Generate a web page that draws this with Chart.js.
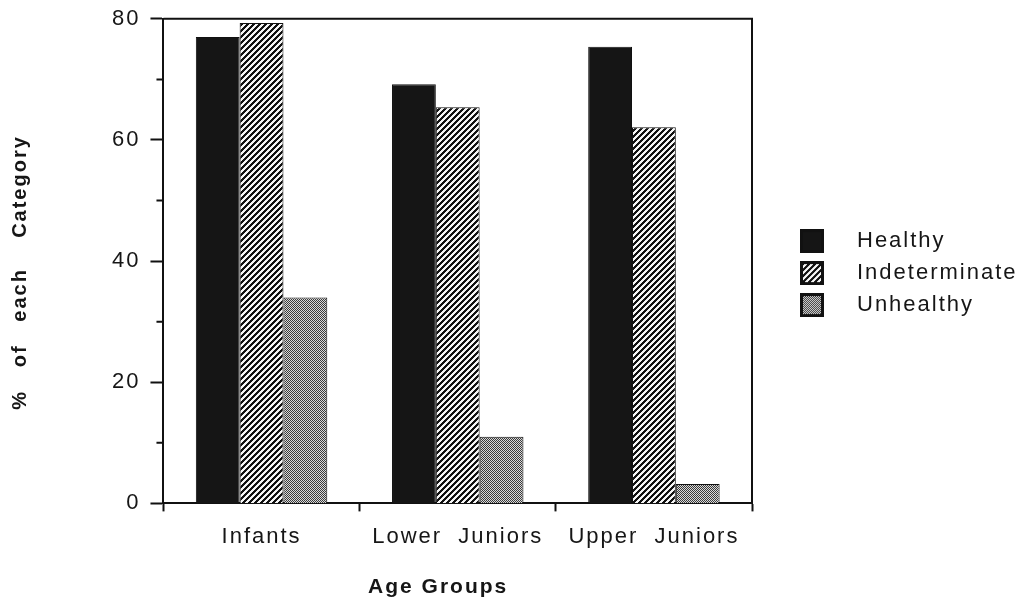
<!DOCTYPE html>
<html>
<head>
<meta charset="utf-8">
<script src="https://cdn.jsdelivr.net/npm/chart.js@4"></script>
<style>
  html, body { margin: 0; padding: 0; background: #fff; }
  #wrap { width: 1022px; height: 602px; }
</style>
</head>
<body>
<div id="wrap"><canvas id="chart1"></canvas></div>
<script>
// data
const categories = ['Infants', 'Lower  Juniors', 'Upper  Juniors'];
const seriesNames = ['Healthy', 'Indeterminate', 'Unhealthy'];
const healthy = [77, 69.2, 75.4];
const indeterminate = [79.3, 65.4, 62.1];
const unhealthy = [34, 11, 3.2];
const yTicks = [0, 20, 40, 60, 80];
const yMinor = [10, 30, 50, 70];

const FONT = "'Liberation Sans', Arial, Helvetica, sans-serif";
const INK = '#161616';
const LEGEND_W = 270;

// fill patterns
const makeTile = (w, h, fn) => {
    const c = document.createElement('canvas');
    c.width = w; c.height = h;
    const g = c.getContext('2d');
    for (let y = 0; y < h; y++) {
        for (let x = 0; x < w; x++) {
            g.fillStyle = fn(x, y);
            g.fillRect(x, y, 1, 1);
        }
    }
    return c;
};
const hatchTile = makeTile(6, 6, (x, y) => ((x + y) % 6) < 3 ? '#111' : '#f4f4f4');
const dotTile = makeTile(2, 2, (x, y) => ((x + y) % 2) ? '#dadada' : '#3a3a3a');
const patCtx = document.createElement('canvas').getContext('2d');
const fills = [
    '#151515',
    patCtx.createPattern(hatchTile, 'repeat'),
    patCtx.createPattern(dotTile, 'repeat')
];

// legend swatch images (wide, swatch drawn on the right side)
const SW_W = 84, SW_OFF = 38, SW = 24;
const swatches = fills.map(f => {
    const c = document.createElement('canvas');
    c.width = SW_W; c.height = SW;
    const g = c.getContext('2d');
    g.fillStyle = f;
    g.fillRect(SW_OFF, 0, SW, SW);
    g.lineWidth = 3;
    g.strokeStyle = '#111';
    g.strokeRect(SW_OFF + 1.5, 1.5, SW - 3, SW - 3);
    return c;
});

// wide letter spacing like the old print, fixed legend width
const spacingPlugin = {
    id: 'spacing',
    beforeLayout(chart) {
        chart.ctx.letterSpacing = '2px';
        const lg = chart.legend;
        if (lg && !lg._fixedW) {
            const fit = lg.fit.bind(lg);
            lg.fit = () => { fit(); lg.width = LEGEND_W; };
            lg._fixedW = true;
        }
    },
    beforeDraw(chart) { chart.ctx.letterSpacing = '2px'; }
};

// frame + minor ticks
const framePlugin = {
    id: 'frame',
    afterDraw(chart) {
        const { ctx, chartArea: a, scales } = chart;
        ctx.save();
        ctx.strokeStyle = '#111';
        ctx.lineWidth = 2;
        ctx.beginPath();
        ctx.moveTo(a.left, a.top);
        ctx.lineTo(a.right, a.top);
        ctx.lineTo(a.right, a.bottom);
        ctx.stroke();
        ctx.beginPath();
        yMinor.forEach(v => {
            const y = scales.y.getPixelForValue(v);
            ctx.moveTo(a.left - 7, y);
            ctx.lineTo(a.left, y);
        });
        ctx.stroke();
        ctx.restore();
    }
};

const createChart = (ctx) => {
    new Chart(ctx, {
        type: 'bar',
        data: {
            labels: categories,
            datasets: [healthy, indeterminate, unhealthy].map((d, i) => ({
                label: seriesNames[i],
                data: d,
                backgroundColor: fills[i],
                borderColor: '#111',
                borderWidth: 1,
                categoryPercentage: 0.67,
                barPercentage: 1.0
            }))
        },
        options: {
            responsive: true,
            maintainAspectRatio: false,
            animation: false,
            layout: { padding: { top: 6, right: 0, bottom: 0, left: 8 } },
            scales: {
                x: {
                    grid: { drawOnChartArea: false, offset: true, tickLength: 8, tickWidth: 2, tickColor: '#111' },
                    border: { color: '#111', width: 2 },
                    ticks: { color: INK, font: { family: FONT, size: 22 }, padding: 12 },
                    title: {
                        display: true, text: 'Age Groups     ', color: INK,
                        font: { family: FONT, size: 21, weight: 'bold' },
                        padding: { top: 13, bottom: 2 }
                    }
                },
                y: {
                    min: 0, max: 80,
                    afterBuildTicks: (s) => { s.ticks = yTicks.map(v => ({ value: v })); },
                    grid: { drawOnChartArea: false, tickLength: 13, tickWidth: 2, tickColor: '#111' },
                    border: { color: '#111', width: 2 },
                    ticks: { color: INK, font: { family: FONT, size: 22, lineHeight: 0.8 }, padding: 10 },
                    title: {
                        display: true, text: '%   of   each    Category   ', color: INK,
                        font: { family: FONT, size: 20, weight: 'bold' },
                        padding: { top: 0, bottom: 70 }
                    }
                }
            },
            plugins: {
                legend: {
                    position: 'right',
                    fullSize: false,
                    title: { display: true, text: '', padding: 6, font: { size: 10 } },
                    labels: {
                        color: INK,
                        font: { family: FONT, size: 22 },
                        usePointStyle: true,
                        pointStyleWidth: SW_W,
                        padding: 10,
                        generateLabels: (chart) => {
                            const items = Chart.defaults.plugins.legend.labels.generateLabels(chart);
                            items.forEach((it, i) => { it.pointStyle = swatches[i]; });
                            return items;
                        }
                    }
                },
                tooltip: { enabled: false }
            }
        },
        plugins: [spacingPlugin, framePlugin]
    });
};

window.onload = () => {
    const ctx1 = document.getElementById('chart1').getContext('2d');
    createChart(ctx1);
};
</script>
</body>
</html>
